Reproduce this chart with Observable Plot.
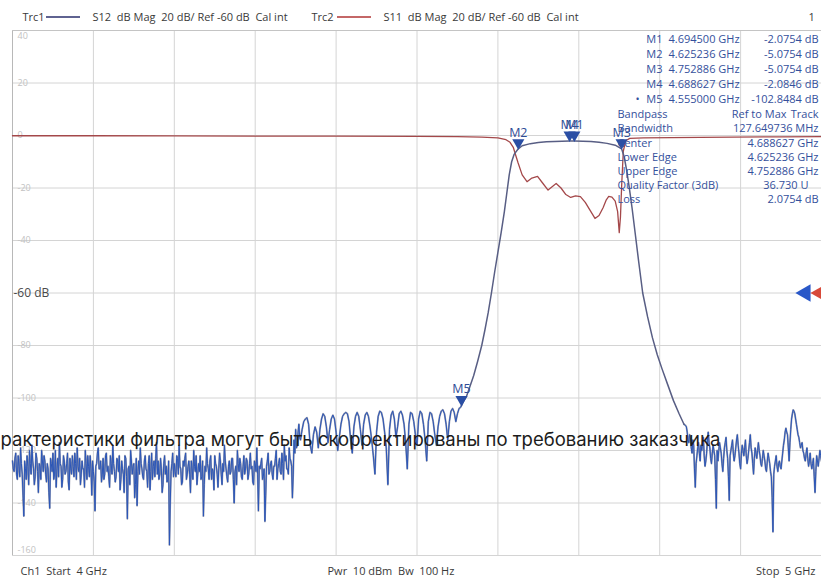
<!DOCTYPE html>
<html><head><meta charset="utf-8">
<script src="https://cdn.jsdelivr.net/npm/d3@7"></script>
<script src="https://cdn.jsdelivr.net/npm/@observablehq/plot@0.6"></script>
<style>
html,body{margin:0;padding:0;background:#fff;}
#chart{position:relative;width:821px;height:578px;overflow:hidden;}
</style></head><body><div id="chart"></div>
<script>
// ---------- DATA ----------
const xGrid = [4.0,4.1,4.2,4.3,4.4,4.5,4.6,4.7,4.8,4.9,5.0];
const yGrid = [40,20,0,-20,-40,-60,-80,-100,-120,-140,-160];
const yLabels = [20,0,-20,-40,-80,-100,-120,-140];
const refLevel = -60;

// S12 noise floor: readings at even MHz from 4.000 GHz (step 2 MHz)
const s12LowStart = 4.000, s12Step = 0.002;
const s12Low = [
-124,-128,-121,-131,-126,-119,-129,-145,-127,-122,-133,-125,-118,-127,-130,-123,-136,-126,-120,-128,
-124,-132,-127,-142,-125,-121,-129,-134,-123,-117,-126,-131,-124,-128,-121,-135,-127,-122,-130,-125,
-119,-128,-133,-124,-127,-120,-131,-126,-122,-137,-128,-143,-125,-119,-127,-132,-123,-129,-121,-126,
-134,-125,-118,-128,-130,-124,-122,-131,-127,-136,-123,-146,-126,-120,-129,-125,-133,-141,-124,-119,
-127,-131,-122,-128,-125,-135,-121,-126,-130,-117,-124,-129,-127,-133,-122,-126,-131,-156,-128,-121,
-125,-130,-123,-118,-127,-132,-126,-121,-129,-124,-136,-127,-120,-128,-133,-125,-122,-130,-145,-126,
-119,-127,-124,-131,-128,-122,-126,-134,-121,-129,-125,-118,-127,-132,-124,-128,-123,-140,-126,-120,
-128,-125,-131,-122,-127,-124,-129,-121,-126,-133,-125,-119,-143,-127,-123,-130,-147,-126,-121,-128,
-124,-131,-126,-120,-127,-123,-129,-125,-118,-122,-127,-119,-124,-138,-116,-112,-118,-110
];
// S12 noise floor: readings at odd MHz from 4.001 GHz (step 2 MHz)
const s12LowMidStart = 4.001;
const s12LowMid = [
-127,-123,-129,-122,-130,-125,-137,-124,-131,-126,-120,-129,-124,-133,-121,-128,-125,-131,-124,-122,
-129,-125,-136,-123,-128,-131,-120,-127,-130,-125,-134,-122,-129,-125,-132,-123,-129,-126,-121,-131,
-126,-123,-129,-127,-134,-125,-122,-130,-127,-124,-132,-126,-121,-127,-124,-129,-131,-122,-128,-130,
-122,-129,-125,-132,-123,-128,-135,-124,-129,-122,-130,-127,-133,-124,-126,-138,-123,-128,-129,-125,
-130,-124,-127,-134,-122,-128,-131,-124,-123,-129,-131,-123,-136,-125,-129,-132,-124,-140,-125,-130,
-128,-122,-129,-126,-133,-124,-123,-131,-126,-129,-124,-131,-126,-122,-129,-128,-131,-124,-133,-128,
-125,-131,-122,-127,-135,-125,-129,-127,-124,-133,-128,-124,-130,-126,-129,-123,-131,-128,-133,-125,
-123,-130,-126,-129,-123,-131,-125,-127,-132,-124,-128,-129,-126,-125,-131,-127,-137,-124,-129,-125,
-129,-126,-123,-131,-125,-128,-121,-131,-124,-127,-129,-123,-126,-129,-121,-119,-113,-115
];
// S12 rippled stop-band, 4.356 GHz onward (step 2 MHz)
const s12RippleStart = 4.356;
const s12Ripple = [
-116,-112,-109,-108,-107.5,-110,-118,-121,-114,-111,-113,-119,-112,-108,-106,-107,-111,-117,-112,-108,
-106.5,-108,-113,-120,-115,-110,-107,-106,-105.5,-106,-109,-116,-121,-111,-107,-105.5,-107,-112,-118,-110,
-106.5,-105.5,-107,-111,-116,-122,-129,-113,-107,-105,-105.5,-108,-113,-119,-133,-112,-106.5,-105,-108,-115,
-111,-106,-105,-106.5,-110,-117,-127,-110,-105.5,-106,-109,-114,-118,-108,-105,-106,-110,-116,-124,-109,
-105.5,-106,-109,-114,-118,-111,-107,-105,-104.5,-106,-110,-116,-109,-105,-104,-105.5,-109,-106,-104,-103.5
];
// S12 skirts and passband [GHz, dB]
const s12Band = [
[4.555,-102.85],[4.558,-101],[4.561,-99.5],[4.565,-96],[4.570,-91.5],[4.575,-86],[4.580,-80],[4.584,-74],
[4.588,-67.5],[4.592,-60],[4.596,-52],[4.600,-44.5],[4.604,-37],[4.608,-29],[4.611,-22],[4.614,-15],
[4.617,-10],[4.620,-7.2],[4.6252,-5.075],[4.630,-3.9],[4.640,-3.1],[4.650,-2.7],[4.660,-2.4],[4.670,-2.25],
[4.6886,-2.085],[4.6945,-2.075],[4.705,-2.15],[4.715,-2.3],[4.725,-2.6],[4.735,-3.0],[4.745,-3.7],
[4.7529,-5.075],[4.756,-8],[4.759,-13],[4.762,-19],[4.766,-28],[4.770,-38],[4.774,-48],[4.779,-60],
[4.785,-69],[4.791,-77],[4.797,-83.5],[4.803,-89],[4.810,-95],[4.817,-101],[4.824,-106],[4.830,-110]
];
// S12 noise floor above the band: even readings from 4.832 GHz, odd from 4.833 GHz
const s12HighStart = 4.832;
const s12High = [
-110.5,-113,-117,-115,-121,-118,-134,-122,-117,-124,-120,-115,-126,-121,-113,-119,-125,-118,-122,-142,
-124,-117,-121,-128,-119,-115,-123,-139,-120,-116,-124,-119,-114,-121,-127,-118,-122,-116,-125,-120,
-114,-121,-129,-119,-123,-117,-122,-126,-120,-124,-128,-121,-125,-130,-151,-126,-122,-128,-124,-127,
-121,-116,-111.5,-114,-124,-112,-106,-105,-108,-112,-115,-119,-117,-121,-124,-119,-126,-121,-127,-123,
-136,-122,-126,-120,-124
];
const s12HighMidStart = 4.833;
const s12HighMid = [
-111,-116,-114,-119,-116,-127,-125,-119,-121,-118,-117,-122,-124,-116,-117,-123,-121,-120,-131,-120,
-120,-119,-125,-123,-117,-120,-130,-122,-118,-121,-122,-116,-118,-125,-121,-120,-119,-122,-123,-117,
-119,-125,-123,-121,-120,-120,-125,-123,-122,-127,-124,-123,-128,-138,-129,-124,-126,-125,-126,-124,
-118,-113,-113,-119,-117,-108,-104.5,-106,-110,-114,-117,-118,-120,-123,-121,-123,-124,-125,-125,-130,
-128,-124,-123,-122
];
// S11 [GHz, dB]
const s11 = [
[4.000,-0.1],[4.100,-0.1],[4.200,-0.15],[4.300,-0.2],[4.400,-0.25],[4.500,-0.35],[4.550,-0.45],[4.580,-0.6],
[4.600,-0.9],[4.610,-1.6],[4.615,-2.6],[4.619,-4.5],[4.622,-7.5],[4.625,-10.5],[4.630,-15],[4.636,-17.6],
[4.642,-16.2],[4.649,-15.6],[4.655,-18],[4.662,-20.8],[4.667,-19.5],[4.672,-18.3],[4.678,-20],[4.684,-22.5],
[4.690,-23.6],[4.696,-23],[4.702,-23.3],[4.708,-25.5],[4.714,-28.5],[4.720,-31.6],[4.725,-30.5],[4.730,-27.5],
[4.734,-24.5],[4.737,-23.2],[4.741,-23.5],[4.745,-25],[4.748,-29],[4.750,-37],[4.7515,-31],[4.753,-19],
[4.755,-6],[4.758,-2],[4.763,-1.1],[4.780,-0.9],[4.850,-0.7],[4.950,-0.5],[5.000,-0.45]
];
const markerNames = ["M1","M2","M3","M4","M5"];
const markerFreq = [4.6945,4.625236,4.752886,4.688627,4.555];
const markerDb = [-2.0754,-5.0754,-5.0754,-2.0846,-102.8484];
const markerFreqText = ["4.694500 GHz","4.625236 GHz","4.752886 GHz","4.688627 GHz","4.555000 GHz"];
const markerDbText = ["-2.0754 dB","-5.0754 dB","-5.0754 dB","-2.0846 dB","-102.8484 dB"];
const bandLabels = ["Bandwidth","Center","Lower Edge","Upper Edge","Quality Factor (3dB)","Loss"];
const bandValues = ["127.649736 MHz","4.688627 GHz","4.625236 GHz","4.752886 GHz","36.730 U","2.0754 dB"];
const header1 = ["Trc1","S12  dB Mag  20 dB/ Ref -60 dB  Cal int"];
const header2 = ["Trc2","S11  dB Mag  20 dB/ Ref -60 dB  Cal int"];
const footer = ["Ch1  Start  4 GHz","Pwr  10 dBm  Bw  100 Hz","Stop  5 GHz"];
const overlayText = "рактеристики фильтра могут быть скорректированы по требованию заказчика";

// ---------- BUILD ----------
const byF = (a,b) => a.f - b.f;
const lowSeg = [
  ...s12Low.map((v,i)=>({f:s12LowStart+i*s12Step, db:v})),
  ...s12LowMid.map((v,i)=>({f:s12LowMidStart+i*s12Step, db:v})),
  ...s12Ripple.map((v,i)=>({f:s12RippleStart+i*s12Step, db:v})),
  {f:s12Band[0][0], db:s12Band[0][1]}
].sort(byF);
const bandSeg = s12Band.map(([f,v])=>({f, db:v}));
const highSeg = [
  {f:s12Band[s12Band.length-1][0], db:s12Band[s12Band.length-1][1]},
  ...s12High.map((v,i)=>({f:s12HighStart+i*s12Step, db:v})),
  ...s12HighMid.map((v,i)=>({f:s12HighMidStart+i*s12Step, db:v}))
].sort(byF);
const s11Data = s11.map(([f,v])=>({f, db:v}));
const markers = markerNames.map((n,i)=>({name:n, f:markerFreq[i], db:markerDb[i]}));

const ML = 12, MT = 30;
const FONT = "Open Sans";
function label(t, px, py, o = {}) {
  return Plot.text([t], {text: d => d, frameAnchor: "top-left", dx: px - ML, dy: py - MT,
    textAnchor: o.anchor || "start", lineAnchor: "middle", fill: o.fill || "#3a3a3a",
    fontSize: o.size || 11, fontFamily: o.font || FONT, fontWeight: o.weight || "normal"});
}
const blue = "#34509c";
const tableMarks = [];
const rowY = [39,54,69,84,99];
markerNames.forEach((n,i)=>{
  tableMarks.push(label(n, 662, rowY[i], {anchor:"end", fill:blue}));
  tableMarks.push(label(markerFreqText[i], 668, rowY[i], {fill:blue}));
  tableMarks.push(label(markerDbText[i], 818, rowY[i], {anchor:"end", fill:blue}));
});
tableMarks.push(label("•", 637, 99, {anchor:"middle", fill:blue}));
tableMarks.push(label("Bandpass", 617, 114, {fill:blue}));
tableMarks.push(label("Ref to Max", 786, 114, {anchor:"end", fill:blue}));
tableMarks.push(label("Track", 818, 114, {anchor:"end", fill:blue}));
const bandY = [128,143,157,171,185,199];
bandLabels.forEach((t,i)=>{
  tableMarks.push(label(t, 617, bandY[i], {fill:blue}));
  tableMarks.push(label(bandValues[i], i===4 ? 808 : 818, bandY[i], {anchor:"end", fill:blue}));
});
const tickOpts = {anchor: "left", label: null, tickSize: 0, tickPadding: 0, dx: 5, textAnchor: "start",
  fill: "#c2c2c2", fontSize: 9, tickFormat: d => String(d)};

const chart = Plot.plot({
  width: 821, height: 578,
  marginLeft: ML, marginRight: 0, marginTop: MT, marginBottom: 23,
  x: {domain: [4, 5], axis: null},
  y: {domain: [-160, 40], axis: null},
  style: {background: "#ffffff", fontFamily: FONT},
  marks: [
    Plot.gridX(xGrid, {stroke: "#d4d4d4", strokeOpacity: 1}),
    Plot.gridY(yGrid, {stroke: "#d4d4d4", strokeOpacity: 1}),
    Plot.ruleX([4], {stroke: "#b8b8b8"}),
    Plot.ruleY([40], {stroke: "#c4c4c4"}),
    Plot.axisY(yLabels, tickOpts),
    Plot.axisY([40], {...tickOpts, dy: 6}),
    Plot.axisY([-160], {...tickOpts, dy: -5}),
    Plot.text([refLevel], {x: 4, y: d => d, text: d => d + " dB", dx: 1, textAnchor: "start",
      fill: "#4a4a4a", fontSize: 12}),
    Plot.line(s11Data, {x: "f", y: "db", stroke: "#a4484a", strokeWidth: 1.3}),
    Plot.line(lowSeg, {x: "f", y: "db", stroke: "#7a7f98", strokeWidth: 1.8, strokeOpacity: 0.8}),
    Plot.line(lowSeg, {x: "f", y: "db", stroke: "#2b56b8", strokeWidth: 1.0}),
    Plot.line(highSeg, {x: "f", y: "db", stroke: "#7a7f98", strokeWidth: 1.8, strokeOpacity: 0.8}),
    Plot.line(highSeg, {x: "f", y: "db", stroke: "#2b56b8", strokeWidth: 1.0}),
    Plot.line(bandSeg, {x: "f", y: "db", stroke: "#585e84", strokeWidth: 1.5}),
    Plot.dot(markers, {x: "f", y: "db", symbol: "triangle", rotate: 180, r: 4.5, fill: "#2a4ea4", dy: -6}),
    Plot.text(markers, {x: "f", y: "db", text: "name", dy: -16, fill: "#2f4c96", fontSize: 12.5}),
    Plot.dot([refLevel], {x: () => 5, y: d => d, symbol: "triangle", rotate: -90, r: 6.5, fill: "#2a58c8", dx: -16}),
    Plot.dot([refLevel], {x: () => 5, y: d => d, symbol: "triangle", rotate: -90, r: 6.5, fill: "#d84a3a", dx: -1}),
    ...tableMarks,
    label(header1[0], 22, 17),
    label(header1[1], 92, 17),
    label(header2[0], 311, 17),
    label(header2[1], 383, 17),
    label("1", 808, 17),
    label(footer[0], 20, 571),
    label(footer[1], 327, 571),
    label(footer[2], 815, 571, {anchor: "end"}),
    label(overlayText, 0, 440, {fill: "#1c1c1c", size: 18.5, font: "Inter"})
  ]
});
const svg = d3.select(chart);
svg.append("line").attr("x1",46).attr("x2",80).attr("y1",17).attr("y2",17).attr("stroke","#2a2f6c").attr("stroke-width",1.5);
svg.append("line").attr("x1",337).attr("x2",371).attr("y1",17).attr("y2",17).attr("stroke","#b03434").attr("stroke-width",1.5);
document.getElementById("chart").appendChild(chart);
</script></body></html>
